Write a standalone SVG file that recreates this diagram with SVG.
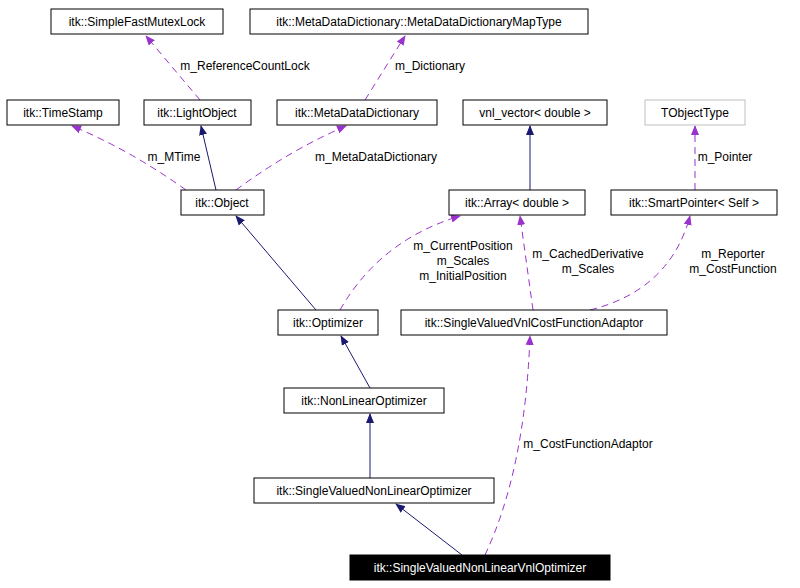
<svg xmlns="http://www.w3.org/2000/svg" width="800" height="588" viewBox="0 0 800 588">
<style>
.n rect{fill:#fff;stroke:#000;stroke-width:1}
text{font-family:"Liberation Sans",Arial,sans-serif;font-size:12px;text-anchor:middle;fill:#000}
.s{fill:none;stroke:#191970;stroke-width:1}
.d{fill:none;stroke:#9a32cd;stroke-width:1;stroke-dasharray:7,5}
</style>
<defs>
<marker id="as" markerWidth="10" markerHeight="10" refX="9" refY="5" orient="auto" markerUnits="userSpaceOnUse" viewBox="0 0 10 10"><path d="M0,1 L10,5 L0,9 Z" fill="#191970"/></marker>
<marker id="ad" markerWidth="10" markerHeight="10" refX="9" refY="5" orient="auto" markerUnits="userSpaceOnUse" viewBox="0 0 10 10"><path d="M0,1 L10,5 L0,9 Z" fill="#9a32cd"/></marker>
</defs>
<rect width="800" height="588" fill="#fff"/>
<g id="connectors">
<path class="s" d="M216,190 L201,126" marker-end="url(#as)"/>
<path class="d" d="M200,100 L146,36" marker-end="url(#ad)"/>
<path class="d" d="M365,100 L405,36" marker-end="url(#ad)"/>
<path class="d" d="M186,190 Q130,150 72,126" marker-end="url(#ad)"/>
<path class="d" d="M236,190 Q290,150 346,126" marker-end="url(#ad)"/>
<path class="s" d="M530,190 L530,126" marker-end="url(#as)"/>
<path class="d" d="M695,190 L695,126" marker-end="url(#ad)"/>
<path class="s" d="M316,310 L236,216" marker-end="url(#as)"/>
<path class="d" d="M340,310 Q380,240 460,216" marker-end="url(#ad)"/>
<path class="d" d="M533,310 L520,216" marker-end="url(#ad)"/>
<path class="d" d="M590,310 Q670,290 690,216" marker-end="url(#ad)"/>
<path class="s" d="M370,388 L341,336" marker-end="url(#as)"/>
<path class="s" d="M370,478 L370,414" marker-end="url(#as)"/>
<path class="s" d="M462,555 L396,504" marker-end="url(#as)"/>
<path class="d" d="M485,555 Q525,470 530,336" marker-end="url(#ad)"/>
<text x="245" y="70">m_ReferenceCountLock</text>
<text x="430" y="70">m_Dictionary</text>
<text x="174" y="161">m_MTime</text>
<text x="376" y="161">m_MetaDataDictionary</text>
<text x="725" y="161">m_Pointer</text>
<text x="463" y="250">m_CurrentPosition</text>
<text x="463" y="265">m_Scales</text>
<text x="463" y="280">m_InitialPosition</text>
<text x="588" y="258">m_CachedDerivative</text>
<text x="588" y="273">m_Scales</text>
<text x="733" y="258">m_Reporter</text>
<text x="733" y="273">m_CostFunction</text>
<text x="588" y="448">m_CostFunctionAdaptor</text>
</g>
<g id="SimpleFastMutexLock" class="n"><rect x="51" y="9" width="172" height="25"/><text x="137" y="26">itk::SimpleFastMutexLock</text></g>
<g id="MapType" class="n"><rect x="250" y="9" width="338" height="25"/><text x="419" y="26">itk::MetaDataDictionary::MetaDataDictionaryMapType</text></g>
<g id="TimeStamp" class="n"><rect x="7" y="100" width="112" height="25"/><text x="63" y="117">itk::TimeStamp</text></g>
<g id="LightObject" class="n"><rect x="144" y="100" width="107" height="25"/><text x="197" y="117">itk::LightObject</text></g>
<g id="MetaDataDictionary" class="n"><rect x="277" y="100" width="160" height="25"/><text x="357" y="117">itk::MetaDataDictionary</text></g>
<g id="vnl_vector" class="n"><rect x="463" y="100" width="144" height="25"/><text x="535" y="117">vnl_vector&lt; double &gt;</text></g>
<g id="TObjectType" class="n"><rect x="645" y="100" width="100" height="25" style="stroke:#bfbfbf"/><text x="695" y="117">TObjectType</text></g>
<g id="Object" class="n"><rect x="181" y="190" width="83" height="25"/><text x="222" y="207">itk::Object</text></g>
<g id="Array" class="n"><rect x="449" y="190" width="136" height="25"/><text x="517" y="207">itk::Array&lt; double &gt;</text></g>
<g id="SmartPointer" class="n"><rect x="611" y="190" width="166" height="25"/><text x="694" y="207">itk::SmartPointer&lt; Self &gt;</text></g>
<g id="Optimizer" class="n"><rect x="278" y="310" width="100" height="25"/><text x="328" y="327">itk::Optimizer</text></g>
<g id="Adaptor" class="n"><rect x="401" y="310" width="266" height="25"/><text x="534" y="327">itk::SingleValuedVnlCostFunctionAdaptor</text></g>
<g id="NonLinearOptimizer" class="n"><rect x="284" y="388" width="160" height="25"/><text x="364" y="405">itk::NonLinearOptimizer</text></g>
<g id="SVNLO" class="n"><rect x="254" y="478" width="240" height="25"/><text x="374" y="495">itk::SingleValuedNonLinearOptimizer</text></g>
<g id="VnlOptimizer"><rect x="350" y="555" width="260" height="25" fill="#000" stroke="#000"/><text x="480" y="572" style="fill:#fff">itk::SingleValuedNonLinearVnlOptimizer</text></g>
</svg>
